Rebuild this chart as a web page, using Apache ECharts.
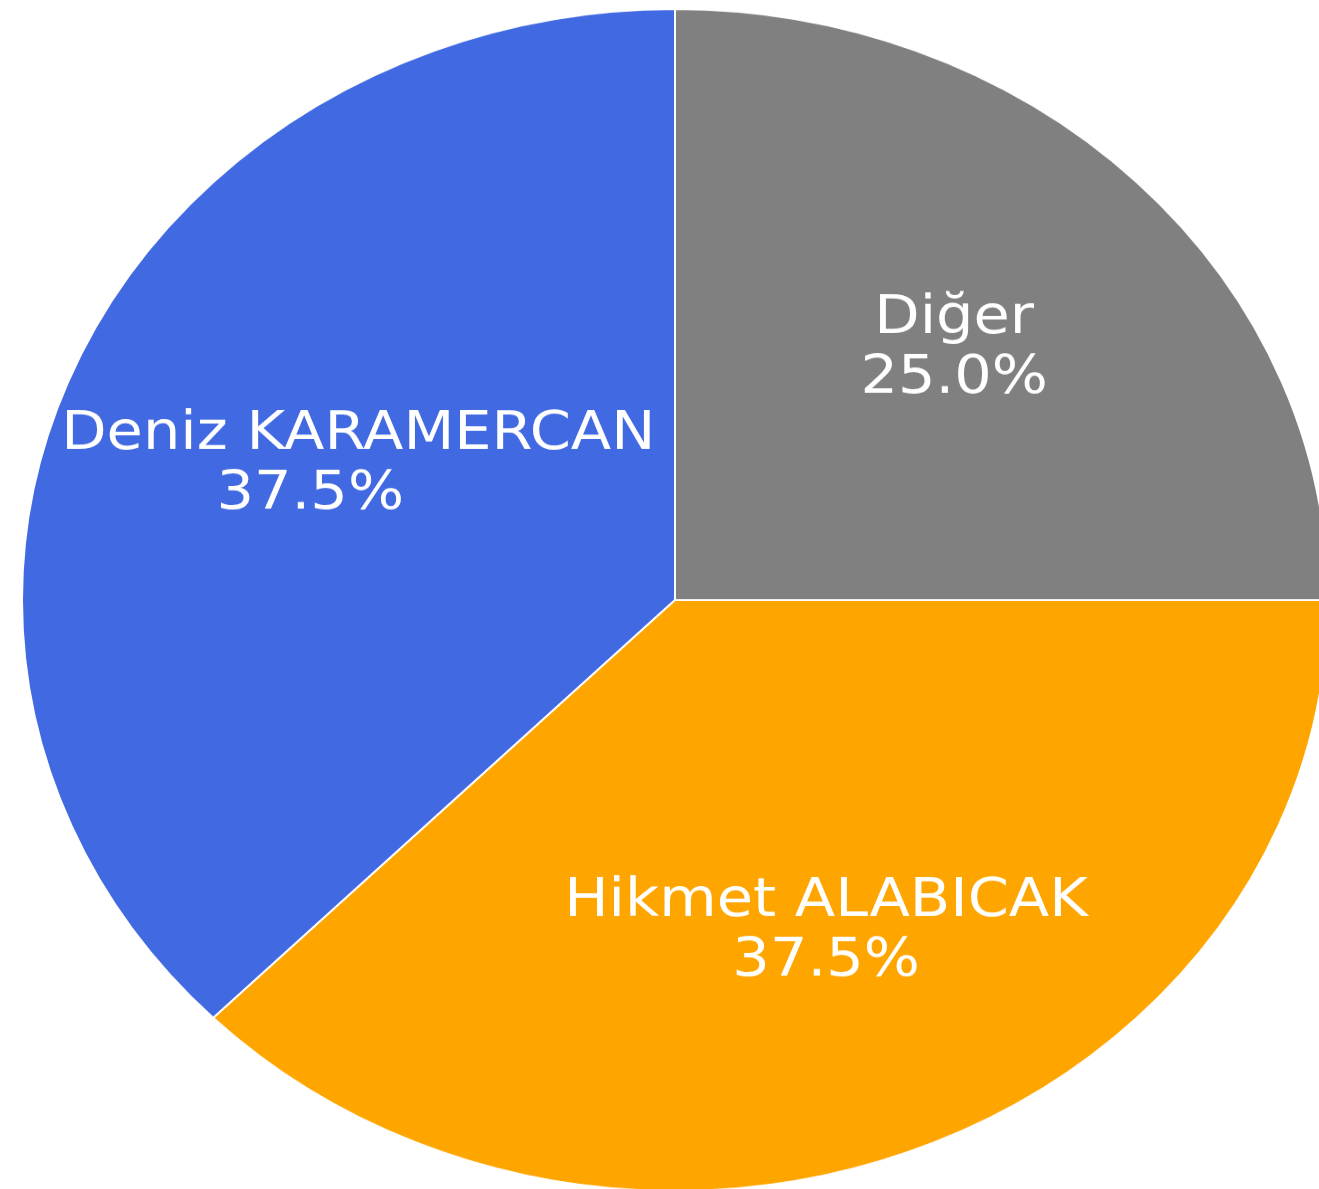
<!DOCTYPE html>
<html>
<head>
<meta charset="utf-8">
<script src="https://cdn.jsdelivr.net/npm/echarts@6/dist/echarts.min.js"></script>
<style>
  html, body { margin: 0; padding: 0; background: #fff; overflow: hidden; }
  /* the reference is a round pie squeezed to 1319x1189, so draw square-ish and squash */
  #chart {
    width: 1319px;
    height: 1314px;
    transform: scaleY(0.905);
    transform-origin: 0 0;
  }
</style>
</head>
<body>
<div id="chart"></div>
<script>
const names = ["Deniz KARAMERCAN", "Hikmet ALABICAK", "Diğer"];
const values = [3, 3, 2];
const colors = ["#4169E1", "#FFA500", "#808080"];

const total = values.reduce((a, b) => a + b, 0);
const pieData = names.map((n, i) => ({ name: n, value: values[i], itemStyle: { color: colors[i] } }));

const R = 653;
const center = [675, 663];
const font = { color: "#fff", fontSize: 59, fontFamily: "DejaVu Sans" };

function labelSeries(fmt, dy, extraOffset) {
  return {
    type: "pie",
    silent: true,
    center: center,
    radius: [R * 0.2, R],
    startAngle: 90,
    clockwise: false,
    itemStyle: { color: "transparent" },
    labelLine: { show: false },
    label: Object.assign({ show: true, position: "inside", formatter: fmt, offset: [0, dy] }, font),
    data: names.map((n, i) => {
      const d = { name: n, value: values[i] };
      if (extraOffset[i]) d.label = { offset: [extraOffset[i], dy] };
      return d;
    }),
    z: 3,
  };
}

const chart = echarts.init(document.getElementById("chart"), null, { renderer: "canvas" });
chart.setOption({
  animation: false,
  series: [
    {
      type: "pie",
      center: center,
      radius: [0, R],
      startAngle: 90,
      clockwise: false,
      label: { show: false },
      labelLine: { show: false },
      itemStyle: { borderColor: "#fff", borderWidth: 2 },
      data: pieData,
    },
    labelSeries((p) => p.name, -31, [48, 0, 0]),
    labelSeries((p) => ((p.value / total) * 100).toFixed(1) + "%", 35, [0, 0, 0]),
  ],
});
</script>
</body>
</html>
